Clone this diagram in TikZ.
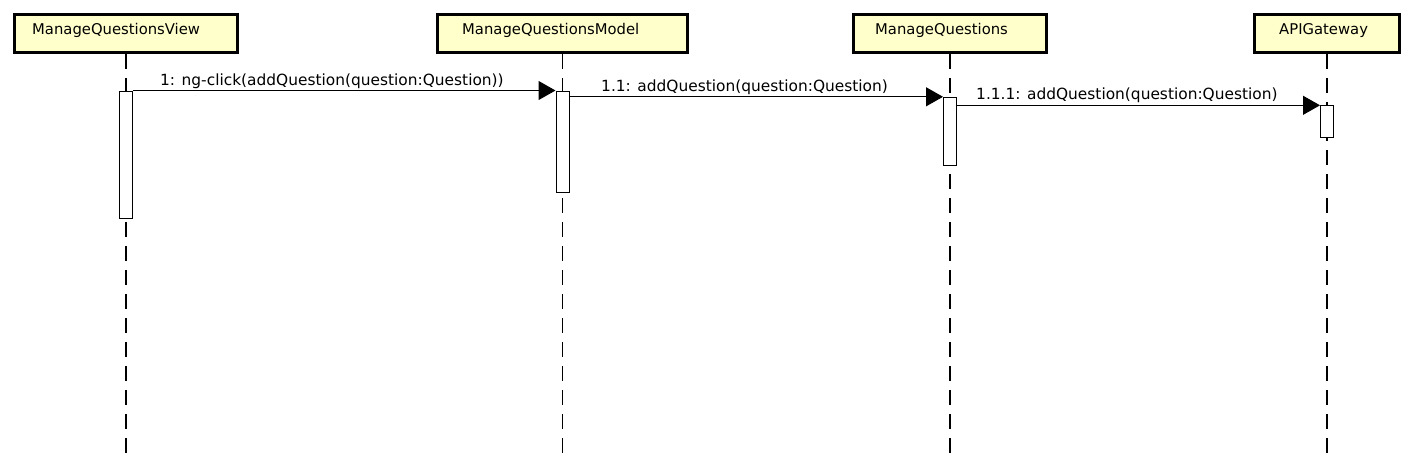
\documentclass[tikz,border=0pt]{standalone}
\usepackage{fontspec}
\setmainfont{DejaVu Sans}
\usetikzlibrary{arrows.meta}
\definecolor{boxfill}{RGB}{255,255,204}
\tikzset{
  actorbox/.style={draw=black, line width=3pt, fill=boxfill, rectangle, inner sep=0pt, minimum height=38.3pt},
  actortext/.style={inner sep=0pt, anchor=base west, font=\fontsize{14.8}{16}\selectfont},
  msgtext/.style={inner sep=0pt, anchor=base west, font=\fontsize{15.4}{17}\selectfont},
  lifeline/.style={draw=black, line width=1.1pt, dash pattern=on 15pt off 9pt},
  actbar/.style={draw=black, line width=1pt, fill=white, rectangle, inner sep=0pt, minimum width=13pt, anchor=north},
  msg/.style={draw=black, line width=1pt, -{Triangle[length=17pt, width=19pt]}}
}
\begin{document}
\begin{tikzpicture}[x=1pt, y=-1pt]
\useasboundingbox[fill=white] (0,0) rectangle (1413,466);
% actor boxes
\node[actorbox, minimum width=223.5pt] (view) at (126,33.4) {};
\node[actorbox, minimum width=250pt] (model) at (562.5,33.4) {};
\node[actorbox, minimum width=193pt] (manage) at (950,33.4) {};
\node[actorbox, minimum width=145pt] (api) at (1327,33.4) {};
\node[actortext] (viewt) at (32,34) {ManageQuestionsView};
\node[actortext] (modelt) at (462,34) {ManageQuestionsModel};
\node[actortext] (managet) at (875,34) {ManageQuestions};
\node[actortext] (apit) at (1279,34) {APIGateway};
% lifeline ends
\coordinate (viewend) at (126,453);
\coordinate (modelend) at (562.5,453);
\coordinate (manageend) at (950,453);
\coordinate (apiend) at (1327,453);
\draw[lifeline] (view.south) -- (viewend);
\draw[lifeline] (model.south) -- (modelend);
\draw[lifeline] (manage.south) -- (manageend);
\draw[lifeline] (api.south) -- (apiend);
% activation bars
\node[actbar, minimum height=127pt] (a1) at (126,90.5) {};
\node[actbar, minimum height=101pt] (a2) at (562.5,90.5) {};
\node[actbar, minimum height=68pt] (a3) at (950,96.8) {};
\node[actbar, minimum height=32pt] (a4) at (1327,105.3) {};
% messages
\draw[msg] (a1.north east) -- (a2.north west);
\draw[msg] (a2.east |- a3.north) -- (a3.north west);
\draw[msg] (a3.east |- a4.north) -- (a4.north west);
\node[msgtext] (m1) at (160,85) {1: ng-click(addQuestion(question:Question))};
\node[msgtext] (m2) at (601,91) {1.1: addQuestion(question:Question)};
\node[msgtext] (m3) at (976,99.5) {1.1.1: addQuestion(question:Question)};
\end{tikzpicture}
\end{document}
